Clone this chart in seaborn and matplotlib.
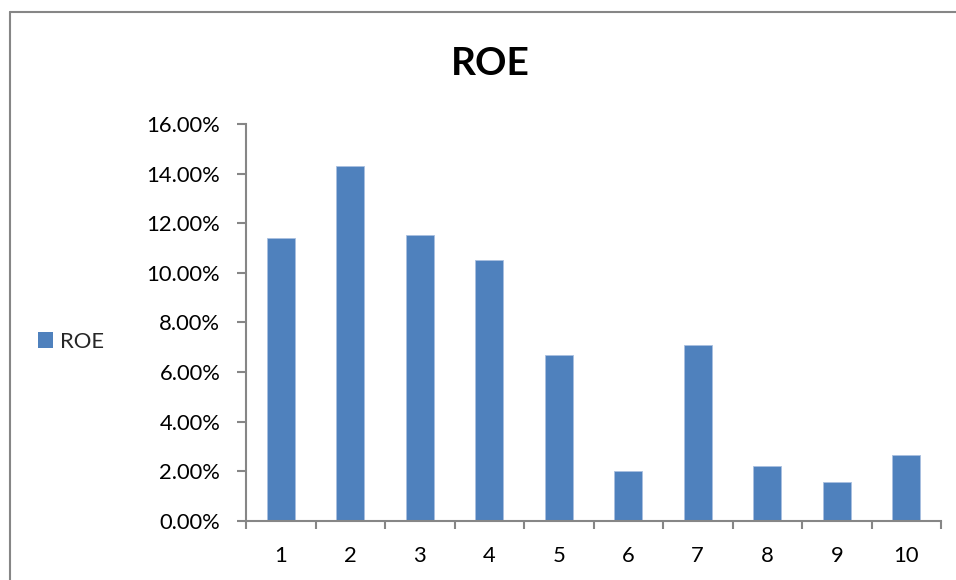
import matplotlib
matplotlib.use("Agg")
import matplotlib.pyplot as plt
from matplotlib.lines import Line2D
from matplotlib.patches import Patch
from matplotlib.ticker import PercentFormatter, FixedLocator
import seaborn as sns
import pandas as pd

# Return on equity by period
periods = ["1", "2", "3", "4", "5", "6", "7", "8", "9", "10"]
roe = [0.1140, 0.1431, 0.1151, 0.1050, 0.0670, 0.0200, 0.0709, 0.0221, 0.0155, 0.0265]
series_name = "ROE"
title = "ROE"

bar_color = "#4F81BD"
axis_color = "#868686"

sns.set_theme(style="white")
plt.rcParams["font.family"] = ["Lato", "DejaVu Sans"]

df = pd.DataFrame({"period": periods, "roe": roe})

W, H = 956, 580
fig = plt.figure(figsize=(W / 100, H / 100), dpi=100)
ax = fig.add_axes([246 / W, 1 - 520.7 / H, (941 - 246) / W, (520.7 - 124) / H])

sns.barplot(data=df, x="period", y="roe", color=bar_color, saturation=1,
            width=0.4, edgecolor="#a9c0e0", linewidth=0.6, ax=ax)

ax.set_xlim(-0.5, len(periods) - 0.5)
ax.set_ylim(0, 0.16)
ax.set_yticks([i * 0.02 for i in range(9)])
ax.yaxis.set_major_formatter(PercentFormatter(xmax=1, decimals=2))
ax.set_xlabel("")
ax.set_ylabel("")

for side in ("top", "right"):
    ax.spines[side].set_visible(False)
for side in ("left", "bottom"):
    ax.spines[side].set_color(axis_color)
    ax.spines[side].set_linewidth(1.5)

label_size = 15.8
ax.tick_params(axis="y", which="major", direction="out", length=6.5, width=1.5,
               color=axis_color, pad=12, labelsize=label_size, labelcolor="black",
               left=True)
ax.tick_params(axis="x", which="major", length=0, pad=18, labelsize=label_size,
               labelcolor="black")
ax.xaxis.set_minor_locator(FixedLocator([i - 0.5 for i in range(len(periods) + 1)]))
ax.tick_params(axis="x", which="minor", direction="out", length=5.5, width=1.5,
               color=axis_color, bottom=True)

ax.legend(handles=[Patch(facecolor=bar_color, edgecolor="none", label=series_name)],
          loc="center left", bbox_to_anchor=(38 / W, 1 - 341.5 / H),
          bbox_transform=fig.transFigure, frameon=False, borderpad=0,
          borderaxespad=0, handlelength=0.7, handleheight=0.7,
          handletextpad=0.3, fontsize=label_size)

fig.text(490 / W, 1 - 75 / H, title, ha="center", va="baseline",
         fontsize=28, fontweight="bold", color="black")

# chart border (left and top edges)
fig.add_artist(Line2D([10 / W, 10 / W], [0, 1 - 12 / H], transform=fig.transFigure,
                      color=axis_color, linewidth=1.5))
fig.add_artist(Line2D([10 / W, 1], [1 - 12 / H, 1 - 12 / H], transform=fig.transFigure,
                      color=axis_color, linewidth=1.5))

fig.savefig("out.png", dpi=100, facecolor="white")
